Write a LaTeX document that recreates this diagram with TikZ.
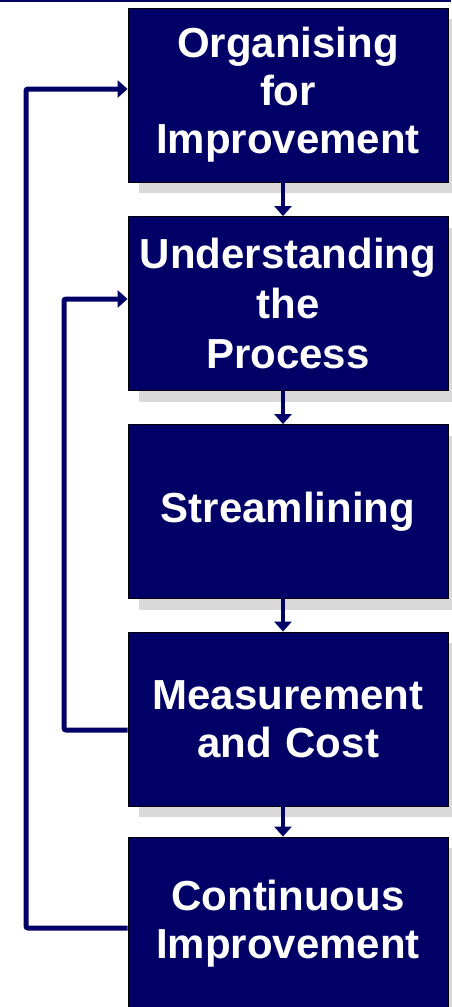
\documentclass[tikz,border=0pt]{standalone}
\usepackage{fontspec}
\setmainfont{Liberation Sans}
\usetikzlibrary{arrows.meta,shadows}
\definecolor{navy}{HTML}{000066}
\definecolor{shade}{HTML}{D9D9D9}

\begin{document}
\begin{tikzpicture}[x=1pt, y=1pt, >={Triangle[length=10pt,width=17pt]},
  stage/.style={draw=black, line width=0.8pt, fill=navy, text=white,
    minimum width=320pt, minimum height=174pt, inner sep=0pt,
    text width=310pt, align=center,
    font=\bfseries\fontsize{42}{48}\selectfont,
    drop shadow={shadow xshift=11pt, shadow yshift=-11pt, fill=shade, opacity=1}},
  flow/.style={draw=navy, line width=4pt},
  loopback/.style={draw=navy, line width=5pt, rounded corners=2pt}]
  \useasboundingbox (0,0) rectangle (451,-1007);
  \draw[navy, line width=2pt] (0,-1) -- (451,-1);
  \node[stage] (org) at (288,-95) {Organising\\for\\Improvement};
  \node[stage, font=\bfseries\fontsize{42}{50}\selectfont] (und) at (288,-303.5) {Understanding\\the\\Process};
  \node[stage] (str) at (288,-511.5) {Streamlining};
  \node[stage] (mea) at (288,-719) {Measurement\\and Cost};
  \node[stage] (con) at (288,-924) {Continuous\\Improvement};
  \draw[flow,->] (org.south -| 283,0) -- (und.north -| 283,0);
  \draw[flow,->] (und.south -| 283,0) -- (str.north -| 283,0);
  \draw[flow,->] (str.south -| 283,0) -- (mea.north -| 283,0);
  \draw[flow,->] (mea.south -| 283,0) -- (con.north -| 283,0);
  \coordinate (mea-out) at (mea.west |- 0,-730);
  \coordinate (und-in) at (und.west |- 0,-299);
  \coordinate (con-out) at (con.west |- 0,-928);
  \coordinate (org-in) at (org.west |- 0,-89);
  \draw[loopback,->] (mea-out) -- (64,-730) -- (64,-299) -- (und-in);
  \draw[loopback,->] (con-out) -- (26,-928) -- (26,-89) -- (org-in);
\end{tikzpicture}
\end{document}
